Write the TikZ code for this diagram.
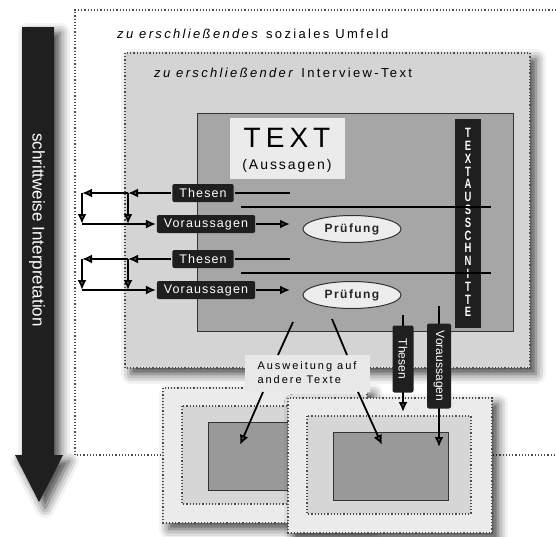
\documentclass[tikz,border=0pt]{standalone}
\usepackage{fontspec}
\setmainfont{Liberation Sans}
\usetikzlibrary{arrows.meta,shapes.geometric,shadows.blur}

\begin{document}
\begin{tikzpicture}[x=1pt,y=-1pt,line width=1.8pt, % 像素坐标, y 向下
    >={Latex[length=10pt,width=9pt]},
    punkte/.style={dotted,line width=1.2pt,draw=black!70},
    schatten/.style={blur shadow={shadow xshift=6pt,shadow yshift=-6pt,
        shadow blur radius=10pt,shadow opacity=75}},
    kasten/.style={fill=black!88,rounded corners=2pt,text=white,
        inner xsep=7pt,inner ysep=0pt,minimum height=18pt,
        font=\fontsize{12.5}{14}\selectfont\addfontfeature{LetterSpace=9}},
    senkrecht/.style={fill=black!88,rounded corners=2pt,text=white,
        rotate=-90,inner sep=0pt,minimum height=21pt,
        font=\fontsize{12}{14}\selectfont},
    pruefung/.style={ellipse,draw=black!80,line width=1pt,fill=black!7,
        minimum width=98pt,minimum height=27pt,inner sep=0pt,text=black!85,
        font=\fontsize{12}{14}\selectfont\bfseries\addfontfeature{LetterSpace=12}},
    weit/.style={font=\fontsize{13}{15}\selectfont\addfontfeature{LetterSpace=18}}]
  \useasboundingbox (0,0) rectangle (556,536);
  % 外面的社会环境
  \draw[punkte] (556,10) -| (75,455) -- (556,455);
  \node[weit,anchor=base west] (umfeld) at (113,38)
    {\textit{zu erschließendes} soziales Umfeld};
  % 左边的大箭头
  \fill[black!88,schatten] (22,27) -- (54,27) -- (54,455) -- (63,455)
    -- (39,502) -- (15,455) -- (22,455) -- cycle;
  \node[rotate=-90,text=white,font=\fontsize{17}{20}\selectfont]
    (schritt) at (37,230) {schrittweise Interpretation};
  % 访谈文本
  \filldraw[punkte,fill=black!17,schatten] (125,53) rectangle (530,368);
  \node[weit,anchor=base west] (interview) at (150,77)
    {\textit{zu erschließender} Interview-Text};
  \filldraw[fill=black!35,draw=black!80,line width=1pt] (197,113) rectangle (513,331);
  \fill[black!8] (230,118) rectangle (345,179);
  \node[font=\fontsize{28}{30}\selectfont\addfontfeature{LetterSpace=18}]
    (text) at (287,138) {TEXT};
  \node[font=\fontsize{14}{16}\selectfont\addfontfeature{LetterSpace=14}]
    (aussagen) at (287,166) {(Aussagen)};
  \fill[black!88] (455,119) rectangle (481,328);
  \foreach \c [count=\i from 0] in {T,E,X,T,A,U,S,S,C,H,N,I,T,T,E}
    \node[text=white,font=\fontsize{13.5}{14}\selectfont\bfseries,inner sep=0pt]
      (buchstabe\i) at (468,{133+12.8*\i}) {\scalebox{0.7}[1]{\c}};
  % 两轮: 论点, 预测, 检验
  \foreach \n/\y in {1/193,2/259} {
    \node[kasten] (thesen\n) at (203,\y) {Thesen};
    \node[kasten] (voraus\n) at (206,\y+31) {Voraussagen};
    \node[pruefung] (pruef\n) at (352,\y+36) {Prüfung};
    \coordinate (innen\n) at (128,\y);
    \coordinate (aussen\n) at (82,\y);
    \coordinate (innenu\n) at (128,\y+31);
    \coordinate (aussenu\n) at (82,\y+31);
    \coordinate (thende\n) at (290,\y);
    \coordinate (voende\n) at (290,\y+31);
    \coordinate (lanfang\n) at (241,\y+14);
    \coordinate (lende\n) at (491,\y+14);
    \draw[->] (thesen\n) -- (innen\n);
    \draw[->] (innen\n) -- (aussen\n);
    \draw[->] (innen\n) -- (innenu\n);
    \draw[->] (aussen\n) -- (aussenu\n);
    \draw[->] (aussenu\n) -- (voraus\n);
    \draw (thesen\n) -- (thende\n);
    \draw[->] (voraus\n) -- (voende\n);
    \draw (lanfang\n) -- (lende\n);
  }
  % 其他文本
  \foreach \px/\py in {163/388,288/398} {
    \begin{scope}[shift={(\px,\py)}]
      \filldraw[punkte,fill=black!8,schatten] (0,0) rectangle (204,135);
      \filldraw[punkte,fill=black!16] (19,18) rectangle (183,116);
      \filldraw[fill=black!40,draw=black!80,line width=1pt] (45,34) rectangle (160,102);
    \end{scope}
  }
  % 推广到其他文本
  \node[fill=black!9,align=left,inner xsep=10pt,inner ysep=5pt,
    minimum width=125pt,minimum height=37pt,
    font=\fontsize{11}{14}\selectfont\addfontfeature{LetterSpace=18}]
    (ausweitung) at (307,373) {Ausweitung auf\\andere Texte};
  \coordinate (pl) at (293,322);
  \coordinate (pr) at (332,319);
  \coordinate (al) at (278,355);
  \coordinate (ar) at (347,355);
  \draw (pl) -- (al);
  \draw (pr) -- (ar);
  \coordinate (sl) at (263,392);
  \coordinate (sr) at (358,392);
  \coordinate (zl) at (240,445);
  \coordinate (zr) at (382,445);
  \draw[->] (sl) -- (zl);
  \draw[->] (sr) -- (zr);
  % 竖着的论点和预测
  \coordinate (tho) at (403,315);
  \coordinate (thu) at (403,412);
  \coordinate (voo) at (439,306);
  \coordinate (vou) at (439,447);
  \draw[->] (tho) -- (thu);
  \draw[->] (voo) -- (vou);
  \node[senkrecht,minimum width=67pt] (thesenv) at (403,359) {Thesen};
  \node[senkrecht,minimum width=85pt,minimum height=24pt]
    (vorausv) at (439,366) {Voraussagen};
\end{tikzpicture}
\end{document}
